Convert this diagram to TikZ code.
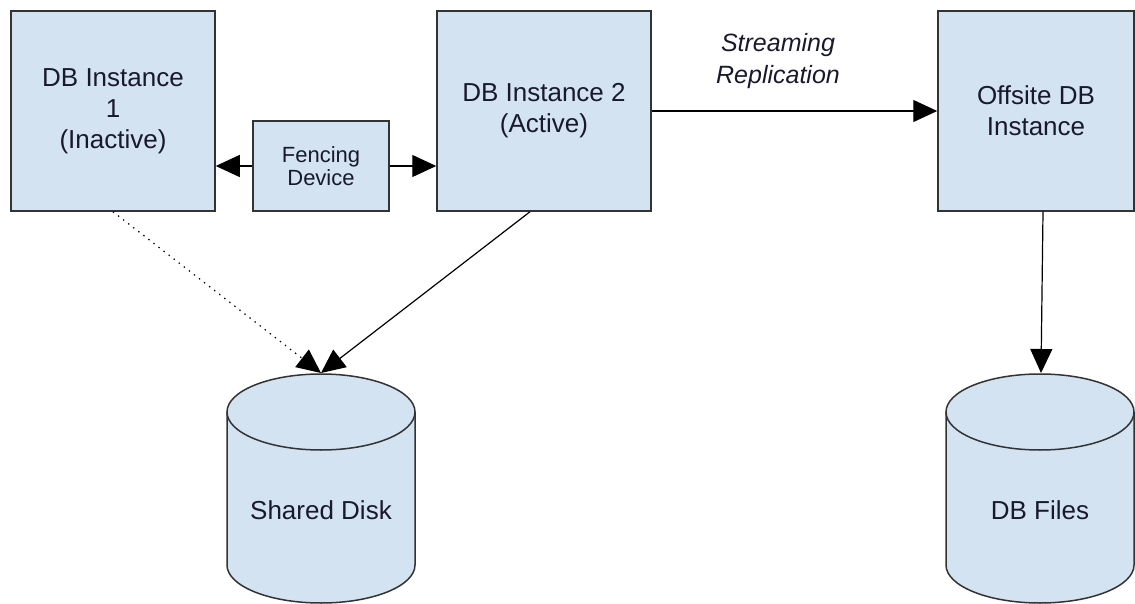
\documentclass[tikz,border=0pt]{standalone}
\usepackage{fontspec}
\setmainfont{Liberation Sans}
\usetikzlibrary{arrows.meta}
\definecolor{boxfill}{RGB}{212,227,242}
\definecolor{boxline}{RGB}{51,51,51}
\definecolor{txt}{RGB}{25,25,45}
\tikzset{
  x=1pt, y=-1pt,
  box/.style={draw=boxline, fill=boxfill, line width=1.5pt, inner sep=0pt, text=txt, align=center},
  bigtext/.style={font=\fontsize{26}{31}\selectfont},
  smalltext/.style={font=\fontsize{22}{23}\selectfont},
  conn/.style={draw=black, line width=1.2pt, -{Triangle[length=24pt,width=22pt]}},
  dotconn/.style={conn, dash pattern=on 1.4pt off 5pt},
  cyl/.style={draw=boxline, fill=boxfill, line width=1.5pt},
  lbl/.style={text=txt, align=center}
}
\begin{document}
\begin{tikzpicture}
\useasboundingbox (0,0) rectangle (1135,604);
% boxes
\node[box, bigtext, minimum width=204pt, minimum height=200pt] (b1) at (113,111) {DB Instance\\1\\(Inactive)};
\node[box, smalltext, minimum width=136pt, minimum height=90pt] (fen) at (321,166) {Fencing\\Device};
\node[box, bigtext, minimum width=214pt, minimum height=200pt] (b2) at (544,111) {DB Instance 2\\(Active)};
\node[box, bigtext, minimum width=196pt, minimum height=200pt] (off) at (1036,111) {Offsite DB\\Instance};
% cylinders
\path[cyl] (227,412) -- (227,565) arc[start angle=180, end angle=0, x radius=94, y radius=38] -- (415,412) arc[start angle=360, end angle=180, x radius=94, y radius=38] -- cycle;
\draw[cyl, fill=none] (227,412) arc[start angle=180, end angle=0, x radius=94, y radius=38];
\node[lbl, bigtext] (disk) at (321,510) {Shared Disk};
\coordinate (disktop) at (321,373);
\path[cyl] (946,412) -- (946,565) arc[start angle=180, end angle=0, x radius=94, y radius=38] -- (1134,412) arc[start angle=360, end angle=180, x radius=94, y radius=38] -- cycle;
\draw[cyl, fill=none] (946,412) arc[start angle=180, end angle=0, x radius=94, y radius=38];
\node[lbl, bigtext] (files) at (1040,510) {DB Files};
\coordinate (filestop) at (1041,373);
% connectors
\draw[conn] (fen.west) -- (b1.east |- fen.west);
\draw[conn] (fen.east) -- (b2.west |- fen.east);
\draw[conn] (b2.east) -- (off.west);
\node[lbl, font=\itshape\fontsize{25}{32}\selectfont] (stream) at (778,61) {Streaming\\Replication};
\draw[dotconn] (b1.south) -- (disktop);
\draw[conn] ([xshift=-14pt]b2.south) -- (disktop);
\draw[conn] ([xshift=7pt]off.south) -- (filestop);
\end{tikzpicture}
\end{document}
